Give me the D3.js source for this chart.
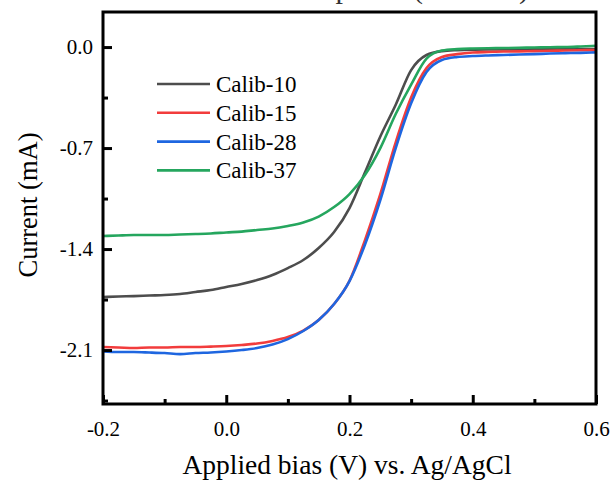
<!DOCTYPE html>
<html>
<head>
<meta charset="utf-8">
<script src="https://cdn.jsdelivr.net/npm/d3@7"></script>
<style>
  body { margin: 0; background: #fff; }
  svg text { font-family: "Liberation Serif", "Times New Roman", serif; }
</style>
</head>
<body>
<div id="chart"></div>
<script>
// applied bias (V) shared by all curves
const bias = [-0.2, -0.175, -0.15, -0.125, -0.1, -0.075, -0.05, -0.025, 0, 0.025, 0.05, 0.075,
  0.1, 0.125, 0.15, 0.175, 0.2, 0.225, 0.25, 0.275, 0.3, 0.325, 0.35, 0.375,
  0.4, 0.425, 0.45, 0.475, 0.5, 0.525, 0.55, 0.575, 0.6];

// current (mA)
const calib10 = [-1.733, -1.729, -1.726, -1.722, -1.719, -1.712, -1.698, -1.684, -1.663, -1.642, -1.615, -1.58,
  -1.532, -1.476, -1.393, -1.282, -1.116, -0.87, -0.62, -0.4, -0.16, -0.055, -0.028, -0.021,
  -0.018, -0.017, -0.017, -0.016, -0.016, -0.015, -0.015, -0.014, -0.014];
const calib15 = [-2.079, -2.082, -2.086, -2.082, -2.082, -2.079, -2.079, -2.076, -2.072, -2.065, -2.055, -2.037,
  -2.01, -1.965, -1.892, -1.781, -1.62, -1.34, -1.02, -0.66, -0.35, -0.146, -0.069, -0.049,
  -0.038, -0.034, -0.031, -0.03, -0.028, -0.026, -0.024, -0.022, -0.021];
const calib28 = [-2.11, -2.114, -2.114, -2.117, -2.121, -2.128, -2.121, -2.117, -2.11, -2.1, -2.086, -2.062,
  -2.024, -1.968, -1.892, -1.781, -1.622, -1.37, -1.06, -0.7, -0.39, -0.173, -0.09, -0.069,
  -0.062, -0.058, -0.055, -0.052, -0.049, -0.045, -0.042, -0.04, -0.037];
const calib37 = [-1.31, -1.306, -1.303, -1.303, -1.303, -1.299, -1.296, -1.292, -1.285, -1.279, -1.268, -1.258,
  -1.24, -1.216, -1.175, -1.109, -1.019, -0.887, -0.7, -0.464, -0.26, -0.08, -0.024, -0.014,
  -0.01, -0.008, -0.007, -0.005, -0.003, -0.001, 0.0, 0.004, 0.009];

const seriesNames = ["Calib-10", "Calib-15", "Calib-28", "Calib-37"];
const seriesColors = ["#4d4d4d", "#f23c3c", "#1e66e0", "#25a65e"];
const seriesValues = [calib10, calib15, calib28, calib37];

const xTicks = [-0.2, 0.0, 0.2, 0.4, 0.6];
const xMinor = [-0.1, 0.1, 0.3, 0.5];
const yTicks = [0.0, -0.7, -1.4, -2.1];
const yMinor = [-0.35, -1.05, -1.75, -2.45];

const width = 611, height = 480;
const plot = {left: 103, right: 596, top: 12, bottom: 404};

const svg = d3.select("#chart").append("svg")
  .attr("width", width)
  .attr("height", height);

const x = d3.scaleLinear().domain([-0.2, 0.6]).range([plot.left, plot.right]);
const y = d3.scaleLinear().domain([-2.474, 0.243]).range([plot.bottom, plot.top]);

// plain hyphen for negatives, like the original
const fmt = d => d.toFixed(1);

// title, mostly cut off by the top edge (as in the original)
svg.append("text")
  .attr("x", 237)
  .attr("y", -2.5)
  .attr("font-size", 30)
  .attr("fill", "#333")
  .text("LSV response (in darks)");

// curves
const line = d3.line()
  .x((d, i) => x(bias[i]))
  .y(d => y(d))
  .curve(d3.curveMonotoneX);

svg.append("g")
  .selectAll("path")
  .data(seriesValues)
  .join("path")
    .attr("d", line)
    .attr("fill", "none")
    .attr("stroke", (d, i) => seriesColors[i])
    .attr("stroke-width", 2.6)
    .attr("stroke-linejoin", "round");

// axes, ticks pointing inward
function xAxis(g) {
  g.attr("transform", "translate(0," + plot.bottom + ")")
    .call(d3.axisBottom(x).tickValues(xTicks).tickFormat(fmt)
      .tickSizeInner(-9).tickSizeOuter(0).tickPadding(17))
    .call(g => g.select(".domain").remove());
  g.selectAll("text").attr("font-size", 21).attr("fill", "#000");
  g.selectAll("line").attr("stroke-width", 3);
}

function yAxis(g) {
  g.attr("transform", "translate(" + plot.left + ",0)")
    .call(d3.axisLeft(y).tickValues(yTicks).tickFormat(fmt)
      .tickSizeInner(-9).tickSizeOuter(0).tickPadding(10))
    .call(g => g.select(".domain").remove());
  g.selectAll("text").attr("font-size", 21).attr("fill", "#000");
  g.selectAll("line").attr("stroke-width", 3);
}

svg.append("g").call(xAxis);
svg.append("g").call(yAxis);

// minor ticks
svg.append("g")
  .attr("transform", "translate(0," + plot.bottom + ")")
  .call(d3.axisBottom(x).tickValues(xMinor).tickFormat("").tickSizeInner(-5).tickSizeOuter(0))
  .call(g => g.select(".domain").remove())
  .selectAll("line").attr("stroke-width", 3);

svg.append("g")
  .attr("transform", "translate(" + plot.left + ",0)")
  .call(d3.axisLeft(y).tickValues(yMinor).tickFormat("").tickSizeInner(-5).tickSizeOuter(0))
  .call(g => g.select(".domain").remove())
  .selectAll("line").attr("stroke-width", 3);

// frame
svg.append("rect")
  .attr("x", plot.left)
  .attr("y", plot.top)
  .attr("width", plot.right - plot.left)
  .attr("height", plot.bottom - plot.top)
  .attr("fill", "none")
  .attr("stroke", "#000")
  .attr("stroke-width", 3);

// axis titles
svg.append("text")
  .attr("x", 347)
  .attr("y", 474)
  .attr("text-anchor", "middle")
  .attr("font-size", 27.5)
  .text("Applied bias (V) vs. Ag/AgCl");

svg.append("text")
  .attr("transform", "translate(37,205) rotate(-90)")
  .attr("text-anchor", "middle")
  .attr("font-size", 26.5)
  .text("Current (mA)");

// legend
const legend = svg.append("g")
  .selectAll("g")
  .data(seriesNames)
  .join("g")
    .attr("transform", (d, i) => "translate(157," + (84 + i * 28.8) + ")");

legend.append("line")
  .attr("x1", 0).attr("x2", 53)
  .attr("stroke", (d, i) => seriesColors[i])
  .attr("stroke-width", 2.6);

legend.append("text")
  .attr("x", 59)
  .attr("y", 8)
  .attr("font-size", 23)
  .text(d => d);
</script>
</body>
</html>
